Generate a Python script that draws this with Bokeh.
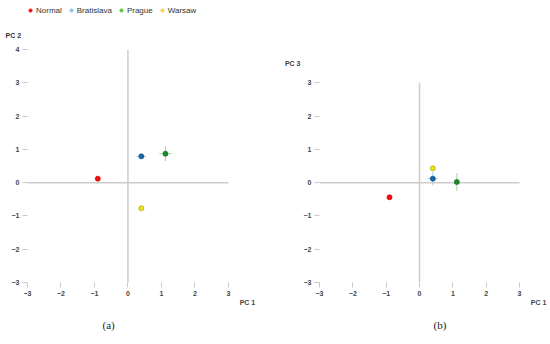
from bokeh.plotting import figure
from bokeh.layouts import row, column
from bokeh.models import (Range1d, FixedTicker, Legend, LegendItem, ColumnDataSource,
                          LinearAxis, Title)
from bokeh.embed import file_html
from bokeh.resources import INLINE

groups = ["Normal", "Bratislava", "Prague", "Warsaw"]
point_colors = ["#f01010", "#1565a8", "#1a8a2a", "#ece41a"]
point_lines = ["#e00000", "#0f5590", "#137a20", "#b8aa10"]
err_colors = ["#f8a0a0", "#a8cde8", "#9fd89f", "#eee890"]
legend_colors = ["#ee1111", "#8ec3ea", "#5cc93a", "#f5d64a"]

pc1 = [-0.90, 0.40, 1.12, 0.40]
pc2 = [0.12, 0.79, 0.87, -0.77]
pc3 = [-0.44, 0.12, 0.02, 0.43]
pc1_err_a = [0.0, 0.15, 0.18, 0.0]
pc2_err = [0.0, 0.03, 0.22, 0.0]
pc1_err_b = [0.0, 0.15, 0.05, 0.0]
pc3_err = [0.0, 0.20, 0.27, 0.0]

x_ticks = [-3, -2, -1, 0, 1, 2, 3]
y_ticks_a = [-3, -2, -1, 0, 1, 2, 3, 4]
y_ticks_b = [-3, -2, -1, 0, 1, 2, 3]

FONT = "Liberation Sans"
LEG_H = 22


def style_axis(ax, tick_color="#c8c8c8"):
    ax.axis_line_color = None
    ax.major_tick_line_color = tick_color
    ax.major_tick_in = 0
    ax.major_tick_out = 5
    ax.minor_tick_line_color = None
    ax.major_label_text_font = FONT
    ax.major_label_text_font_size = "7px"
    ax.major_label_text_font_style = "bold"
    ax.major_label_text_color = "#444444"
    ax.major_label_standoff = 3


def make_panel(xs, ys, xerr, yerr, y_ticks, borders, x1_pos):
    left, right = borders
    p = figure(width=275, height=344 - LEG_H, output_backend="svg", toolbar_location=None,
               x_range=Range1d(-3, 3.75), y_range=Range1d(-3, 4), title=None)
    p.min_border_left = left
    p.min_border_right = right
    p.min_border_top = 49 - LEG_H
    p.min_border_bottom = 62
    p.outline_line_color = None
    p.background_fill_color = "white"
    p.border_fill_color = "white"
    p.grid.visible = False
    p.xaxis.ticker = FixedTicker(ticks=x_ticks)
    p.yaxis.ticker = FixedTicker(ticks=y_ticks)
    style_axis(p.xaxis[0])
    style_axis(p.yaxis[0])

    ax1 = LinearAxis(ticker=FixedTicker(ticks=[x1_pos]), major_label_overrides={x1_pos: "PC 1"})
    style_axis(ax1, None)
    ax1.major_tick_out = 0
    ax1.major_label_standoff = 0
    p.add_layout(ax1, "below")

    p.segment(x0=[min(x_ticks)], y0=[0], x1=[max(x_ticks)], y1=[0], line_color="#cccccc", line_width=1.5)
    p.segment(x0=[0], y0=[min(y_ticks)], x1=[0], y1=[max(y_ticks)], line_color="#cccccc", line_width=1.5)

    src = ColumnDataSource(dict(
        x=xs, y=ys,
        x0=[a - e for a, e in zip(xs, xerr)], x1=[a + e for a, e in zip(xs, xerr)],
        y0=[b - e for b, e in zip(ys, yerr)], y1=[b + e for b, e in zip(ys, yerr)],
        fill=point_colors, line=point_lines, err=err_colors,
    ))
    p.segment(x0="x0", y0="y", x1="x1", y1="y", source=src, line_color="err", line_width=1)
    p.segment(x0="x", y0="y0", x1="x", y1="y1", source=src, line_color="err", line_width=1)
    p.scatter(x="x", y="y", source=src, size=5, fill_color="fill", line_color="line", line_width=0.8)
    return p


pa = make_panel(pc1, pc2, pc1_err_a, pc2_err, y_ticks_a, (27, 22), 3.57)
pb = make_panel(pc1, pc3, pc1_err_b, pc3_err, y_ticks_b, (44, 6), 3.57)

pa.add_layout(Title(text="PC 2", align="left", offset=-22, standoff=17, vertical_align="top",
                    text_font=FONT, text_font_size="7px", text_font_style="bold",
                    text_color="#333333"), "above")

ax3 = LinearAxis(ticker=FixedTicker(ticks=[3.57]), major_label_overrides={3.57: "PC 3"})
style_axis(ax3, None)
ax3.major_tick_out = 0
ax3.major_label_standoff = 0
pb.add_layout(ax3, "left")

pa.add_layout(Title(text="(a)", align="left", offset=75, standoff=17, text_font="Liberation Serif",
                    text_font_size="11px", text_font_style="normal", text_color="#222222"), "below")
pb.add_layout(Title(text="(b)", align="left", offset=114, standoff=17, text_font="Liberation Serif",
                    text_font_size="11px", text_font_style="normal", text_color="#222222"), "below")

# legend strip
lf = figure(width=550, height=LEG_H, output_backend="svg", toolbar_location=None,
            x_range=Range1d(0, 1), y_range=Range1d(0, 1), title=None,
            x_axis_location=None, y_axis_location=None)
lf.min_border = 0
lf.outline_line_color = None
lf.grid.visible = False
items = []
for i, g in enumerate(groups):
    r = lf.scatter(x=[float("nan")], y=[float("nan")], size=7,
                   fill_color=legend_colors[i], line_color=legend_colors[i])
    items.append(LegendItem(label=g, renderers=[r]))
legend = Legend(items=items, orientation="horizontal", location=(26, 7),
                border_line_color=None, background_fill_alpha=0,
                label_text_font=FONT, label_text_font_size="8px", label_text_color="#333333",
                glyph_width=8, glyph_height=8, label_standoff=2, spacing=5,
                padding=0, margin=0, label_height=10)
lf.add_layout(legend)

layout = column(lf, row(pa, pb))
open("out.html", "w").write(file_html(layout, INLINE))
